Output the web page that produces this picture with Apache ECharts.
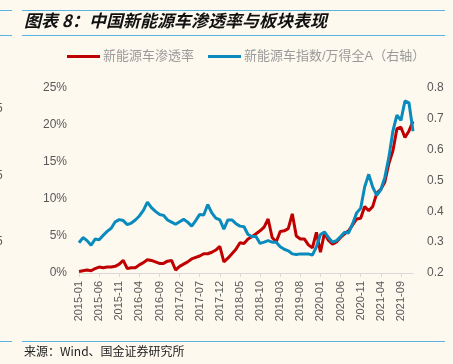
<!DOCTYPE html>
<html><head><meta charset="utf-8">
<script src="https://cdn.jsdelivr.net/npm/echarts@6/dist/echarts.min.js"></script>
<style>html,body{margin:0;padding:0;background:#fdf9ef;}#c{width:453px;height:364px;}</style>
</head><body><div id="c"></div>
<script>
// monthly categories 2015-01 .. 2021-12
var categories = [];
for (var y = 2015; y <= 2021; y++) { for (var m = 1; m <= 12; m++) { categories.push(y + '-' + (m < 10 ? '0' + m : m)); } }

// 新能源车渗透率 (%)
var penetration = [
  0.2, 0.3, 0.4, 0.3, 0.6, 0.8, 0.7, 0.8, 0.8, 0.9, 1.2, 1.7,
  0.6, 0.7, 0.7, 1.1, 1.4, 1.8, 1.7, 1.5, 1.3, 1.3, 1.6, 1.7,
  0.4, 0.9, 1.2, 1.5, 1.9, 2.1, 2.3, 2.6, 2.6, 2.8, 3.1, 3.6,
  1.5, 2.0, 2.6, 3.2, 4.1, 4.0, 4.6, 4.9, 5.3, 5.7, 6.2, 7.3,
  4.8, 4.2, 5.6, 5.7, 6.0, 8.0, 5.0, 4.6, 4.6, 3.8, 3.4, 5.5,
  2.8, 5.4, 4.4, 3.9, 4.2, 4.8, 5.3, 5.7, 6.5, 7.3, 7.4, 9.0,
  8.4, 9.0, 10.8, 11.3, 12.3, 14.8, 16.5, 19.5, 19.7, 18.3, 19.2, 20.5
];
// 新能源车指数/万得全A (右轴)
var indexRatio = [
  0.298, 0.315, 0.305, 0.290, 0.310, 0.308, 0.322, 0.335, 0.345, 0.366, 0.373, 0.370,
  0.357, 0.362, 0.372, 0.385, 0.403, 0.430, 0.412, 0.400, 0.390, 0.387, 0.372, 0.365,
  0.358, 0.366, 0.374, 0.365, 0.352, 0.370, 0.390, 0.388, 0.422, 0.395, 0.378, 0.372,
  0.342, 0.372, 0.372, 0.360, 0.352, 0.350, 0.325, 0.318, 0.318, 0.296, 0.300, 0.305,
  0.300, 0.300, 0.285, 0.277, 0.272, 0.262, 0.260, 0.262, 0.262, 0.262, 0.258, 0.285,
  0.325, 0.333, 0.315, 0.300, 0.305, 0.318, 0.332, 0.330, 0.360, 0.395, 0.410, 0.480,
  0.520, 0.478, 0.452, 0.470, 0.510, 0.575, 0.660, 0.712, 0.695, 0.758, 0.752, 0.660
];

var seriesNames = ['新能源车渗透率', '新能源车指数/万得全A（右轴）'];
var leftTicks = {min: 0, max: 25, interval: 5};
var rightTicks = {min: 0.2, max: 0.8, interval: 0.1};

var FONT = '"Liberation Sans", "Noto Sans CJK SC", sans-serif';
var chart = echarts.init(document.getElementById('c'));
var lineBlue = '#5ab4e2';
chart.setOption({
  backgroundColor: '#fdf9ef',
  animation: false,
  textStyle: {fontFamily: FONT},
  grid: {left: 79, right: 40, top: 88, bottom: 91},
  legend: {
    top: 50, left: 67, padding: 0, itemWidth: 33, itemHeight: 3, itemGap: 14, icon: 'rect',
    textStyle: {color: '#9a9a9a', fontSize: 13, fontFamily: FONT, padding: [0, 0, 0, -2]},
    data: seriesNames
  },
  xAxis: {
    type: 'category', data: categories, boundaryGap: false,
    axisLine: {lineStyle: {color: '#d9d9d9', width: 1}},
    axisTick: {interval: 4, length: 4, lineStyle: {color: '#d9d9d9'}},
    axisLabel: {interval: 4, rotate: 90, color: '#595959', fontSize: 11, margin: 8, fontFamily: FONT}
  },
  yAxis: [
    {type: 'value', min: leftTicks.min, max: leftTicks.max, interval: leftTicks.interval,
     splitLine: {show: false}, axisLine: {show: false}, axisTick: {show: false},
     axisLabel: {formatter: '{value}%', color: '#595959', fontSize: 12, margin: 12, fontFamily: FONT}},
    {type: 'value', min: rightTicks.min, max: rightTicks.max, interval: rightTicks.interval,
     splitLine: {show: false}, axisLine: {show: false}, axisTick: {show: false},
     axisLabel: {formatter: function (v) { return v.toFixed(1); }, color: '#595959', fontSize: 12, margin: 14, fontFamily: FONT}}
  ],
  series: [
    {name: seriesNames[0], type: 'line', data: penetration, yAxisIndex: 0, showSymbol: false, symbol: 'none',
     lineStyle: {color: '#c00000', width: 3}, itemStyle: {color: '#c00000'}, z: 2},
    {name: seriesNames[1], type: 'line', data: indexRatio, yAxisIndex: 1, showSymbol: false, symbol: 'none',
     lineStyle: {color: '#0a8bbd', width: 3}, itemStyle: {color: '#0a8bbd'}, z: 3}
  ],
  graphic: [
    {type: 'line', shape: {x1: 22, y1: 10.5, x2: 445, y2: 10.5}, style: {stroke: lineBlue, lineWidth: 1}},
    {type: 'line', shape: {x1: 22, y1: 35.5, x2: 445, y2: 35.5}, style: {stroke: lineBlue, lineWidth: 1}},
    {type: 'line', shape: {x1: 0, y1: 10.5, x2: 12, y2: 10.5}, style: {stroke: lineBlue, lineWidth: 1}},
    {type: 'line', shape: {x1: 0, y1: 35.5, x2: 12, y2: 35.5}, style: {stroke: lineBlue, lineWidth: 1}},
    {type: 'line', shape: {x1: 22, y1: 341.5, x2: 445, y2: 341.5}, style: {stroke: lineBlue, lineWidth: 1}},
    {type: 'line', shape: {x1: 0, y1: 341.5, x2: 12, y2: 341.5}, style: {stroke: lineBlue, lineWidth: 1}},
    {type: 'text', left: 24, top: 12, style: {text: '图表 8：中国新能源车渗透率与板块表现', fill: '#111', font: 'italic bold 17px "Noto Sans CJK SC", sans-serif'}},
    {type: 'text', left: 24, top: 345, style: {text: '来源：Wind、国金证券研究所', fill: '#222', font: '12px "Noto Sans CJK SC", sans-serif'}},
    {type: 'text', left: -4, top: 103, style: {text: '5', fill: '#595959', font: '12px "Liberation Sans", sans-serif'}},
    {type: 'text', left: -4, top: 170, style: {text: '5', fill: '#595959', font: '12px "Liberation Sans", sans-serif'}},
    {type: 'text', left: -4, top: 236, style: {text: '5', fill: '#595959', font: '12px "Liberation Sans", sans-serif'}}
  ]
});
</script></body></html>
